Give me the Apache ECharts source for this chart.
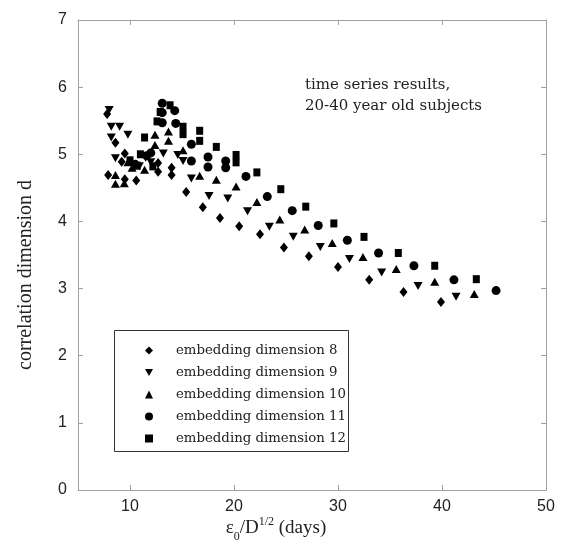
<!DOCTYPE html>
<html>
<head>
<meta charset="utf-8">
<script src="https://cdn.jsdelivr.net/npm/echarts@6/dist/echarts.min.js"></script>
<style>html,body{margin:0;padding:0;background:#fff}#c{width:566px;height:542px}</style>
</head>
<body>
<div id="c"></div>
<script>
const seriesNames = ['embedding dimension 8','embedding dimension 9','embedding dimension 10','embedding dimension 11','embedding dimension 12'];
const xTicks = [10, 20, 30, 40, 50];
const yTicks = [0, 1, 2, 3, 4, 5, 6, 7];
const dim8 = [[7.8,5.60],[8.6,5.17],[9.5,5.01],[9.2,4.89],[7.9,4.69],[9.5,4.63],[10.6,4.61],[12.7,4.87],[12.7,4.74],[14.0,4.80],[14.0,4.69],[15.4,4.44],[17.0,4.21],[18.65,4.05],[20.5,3.93],[22.5,3.81],[24.8,3.61],[27.2,3.48],[30.0,3.32],[33.0,3.13],[36.3,2.95],[39.9,2.80]];
const dim9 = [[8.0,5.66],[8.2,5.41],[9.0,5.41],[8.2,5.25],[9.8,5.29],[8.6,4.94],[10.9,4.82],[11.5,4.95],[12.0,4.88],[13.2,5.01],[14.6,4.99],[15.1,4.90],[15.9,4.64],[17.6,4.38],[19.4,4.34],[21.3,4.15],[23.4,3.92],[25.7,3.77],[28.3,3.62],[31.1,3.44],[34.2,3.24],[37.7,3.04],[41.35,2.88]];
const dim10 = [[8.6,4.69],[8.6,4.56],[9.45,4.57],[9.8,4.88],[10.2,4.80],[11.4,4.77],[12.4,5.29],[12.4,5.14],[13.7,5.34],[13.7,5.20],[15.1,5.06],[16.7,4.68],[18.3,4.62],[20.2,4.52],[22.2,4.29],[24.4,4.03],[26.8,3.88],[29.45,3.68],[32.4,3.47],[35.6,3.29],[39.3,3.10],[43.1,2.92]];
const dim11 = [[10.5,4.85],[11.6,4.98],[12.0,5.02],[13.1,5.76],[13.1,5.62],[13.1,5.47],[14.3,5.65],[14.4,5.46],[15.9,5.15],[15.9,4.90],[17.5,4.96],[17.5,4.81],[19.2,4.90],[19.2,4.80],[21.15,4.67],[23.2,4.37],[25.6,4.16],[28.1,3.94],[30.9,3.72],[33.9,3.53],[37.3,3.34],[41.15,3.13],[45.2,2.97]];
const dim12 = [[10.0,4.91],[10.7,4.83],[11.0,5.00],[12.2,4.82],[11.4,5.25],[12.6,5.49],[12.9,5.63],[13.85,5.73],[15.1,5.41],[15.1,5.30],[16.7,5.35],[16.7,5.20],[18.3,5.11],[20.2,4.99],[20.2,4.88],[22.2,4.73],[24.5,4.48],[26.9,4.22],[29.6,3.97],[32.5,3.77],[35.8,3.53],[39.3,3.34],[43.3,3.14]];

const downTri = 'path://M0,0 L10,0 L5,9 Z';
const symbols = ['diamond', downTri, 'triangle', 'circle', 'rect'];
const sizes = [[8,10],[9,8],[9,8],9,[7,8]];
const allData = [dim8, dim9, dim10, dim11, dim12];

const axisGray = '#a0a0a0';
const serif = '"Liberation Serif", "DejaVu Serif", serif';
const wideSerif = '"DejaVu Serif", "Liberation Serif", serif';
const sans = '"Liberation Sans", Arial, sans-serif';

const chart = echarts.init(document.getElementById('c'), null, {renderer: 'canvas'});
const baseX = {
  type: 'value', min: 5, max: 50,
  axisLine: {show: true, onZero: false, lineStyle: {color: axisGray, width: 1}},
  axisTick: {show: true, inside: true, length: 5, customValues: xTicks, lineStyle: {color: axisGray}},
  splitLine: {show: false}
};
const baseY = {
  type: 'value', min: 0, max: 7, interval: 1,
  axisLine: {show: true, onZero: false, lineStyle: {color: axisGray, width: 1}},
  axisTick: {show: true, inside: true, length: 5, lineStyle: {color: axisGray}},
  splitLine: {show: false}
};
chart.setOption({
  animation: false,
  backgroundColor: '#fff',
  grid: {left: 78, right: 20, top: 20, bottom: 52, containLabel: false, outerBoundsMode: 'none'},
  xAxis: [
    Object.assign({}, baseX, {
      position: 'bottom',
      axisLabel: {show: true, customValues: xTicks, margin: 9, color: '#222', fontFamily: sans, fontSize: 16},
      name: '{e|ε}{sub|0}{e|/D}{sup|1/2}{e| (days)}',
      nameLocation: 'middle', nameGap: 26, nameMoveOverlap: false,
      nameTextStyle: {
        padding: [0, 72, 0, 0],
        rich: {
          e: {fontFamily: serif, fontSize: 19, color: '#222', lineHeight: 24},
          sub: {fontFamily: serif, fontSize: 12, color: '#222', verticalAlign: 'bottom', lineHeight: 24, padding: [0,0,-3,0]},
          sup: {fontFamily: serif, fontSize: 12, color: '#222', verticalAlign: 'top', lineHeight: 24}
        }
      }
    }),
    Object.assign({}, baseX, {position: 'top', axisLabel: {show: false}})
  ],
  yAxis: [
    Object.assign({}, baseY, {
      position: 'left',
      axisLabel: {show: true, margin: 11, color: '#222', fontFamily: sans, fontSize: 16},
      name: 'correlation dimension d',
      nameLocation: 'middle', nameGap: 42, nameMoveOverlap: false,
      nameTextStyle: {fontFamily: serif, fontSize: 20, color: '#222', padding: [0, 40, 0, 0]}
    }),
    Object.assign({}, baseY, {position: 'right', axisLabel: {show: false}})
  ],
  legend: {
    orient: 'vertical', left: 140, top: 337,
    itemWidth: 8, itemHeight: 8, itemGap: 5,
    data: seriesNames.map((n, i) => ({name: n, icon: symbols[i]})),
    textStyle: {fontFamily: wideSerif, fontSize: 13.3, color: '#222', padding: [0, 0, 0, 18], lineHeight: 17},
    selectedMode: false
  },
  graphic: [
    {type: 'rect', left: 112, top: 328, shape: {width: 234, height: 121}, style: {fill: 'none', stroke: '#333', lineWidth: 1}, z: 1},
    {type: 'text', left: 305, top: 75, style: {text: 'time series results,\n20-40 year old subjects', fontFamily: wideSerif, fontSize: 15, lineHeight: 21, fill: '#222'}}
  ],
  series: allData.map((d, i) => ({
    name: seriesNames[i],
    type: 'scatter',
    data: d,
    symbol: symbols[i],
    symbolSize: sizes[i],
    itemStyle: {color: '#000', opacity: 1},
    z: 3
  }))
});
</script>
</body>
</html>
